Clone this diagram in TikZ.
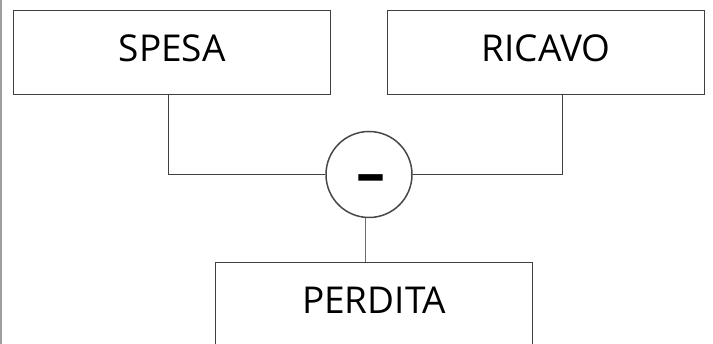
\documentclass[tikz,border=0pt]{standalone}
\usepackage{fontspec}
\setmainfont{Open Sans}
\begin{document}
\begin{tikzpicture}[x=1pt,y=-1pt,
  box/.style={draw=black!75, line width=1.4pt, minimum width=317pt, minimum height=84pt,
    inner sep=0pt, text height=27pt, text depth=10pt, font=\fontsize{37}{40}\selectfont, anchor=north west},
  op/.style={circle, draw=black!72, line width=1.5pt, minimum size=86pt, inner sep=0pt, fill=white},
  conn/.style={draw=black!75, line width=1.4pt},
  thin/.style={draw=black!58, line width=1.1pt}]
\useasboundingbox (0,0) rectangle (713,344);
\fill[white] (0,0) rectangle (713,344);
\draw[black!38, line width=2pt] (1,0) -- (1,344);
\node[box] (sp) at (13,10) {SPESA};
\node[box] (ri) at (387,10) {RICAVO};
\node[box] (pe) at (215,262) {PERDITA};
\node[op] (c) at (369,174.5) {};
\node[font=\bfseries\fontsize{58}{58}\selectfont, inner sep=0pt] (m) at (371,184) {–};
\draw[conn] ([xshift=-3.5pt]sp.south) |- (c.west);
\draw[conn] ([xshift=16.5pt]ri.south) |- (c.east);
\draw[thin] (c.265) -- (c.265 |- pe.north);
\end{tikzpicture}
\end{document}
